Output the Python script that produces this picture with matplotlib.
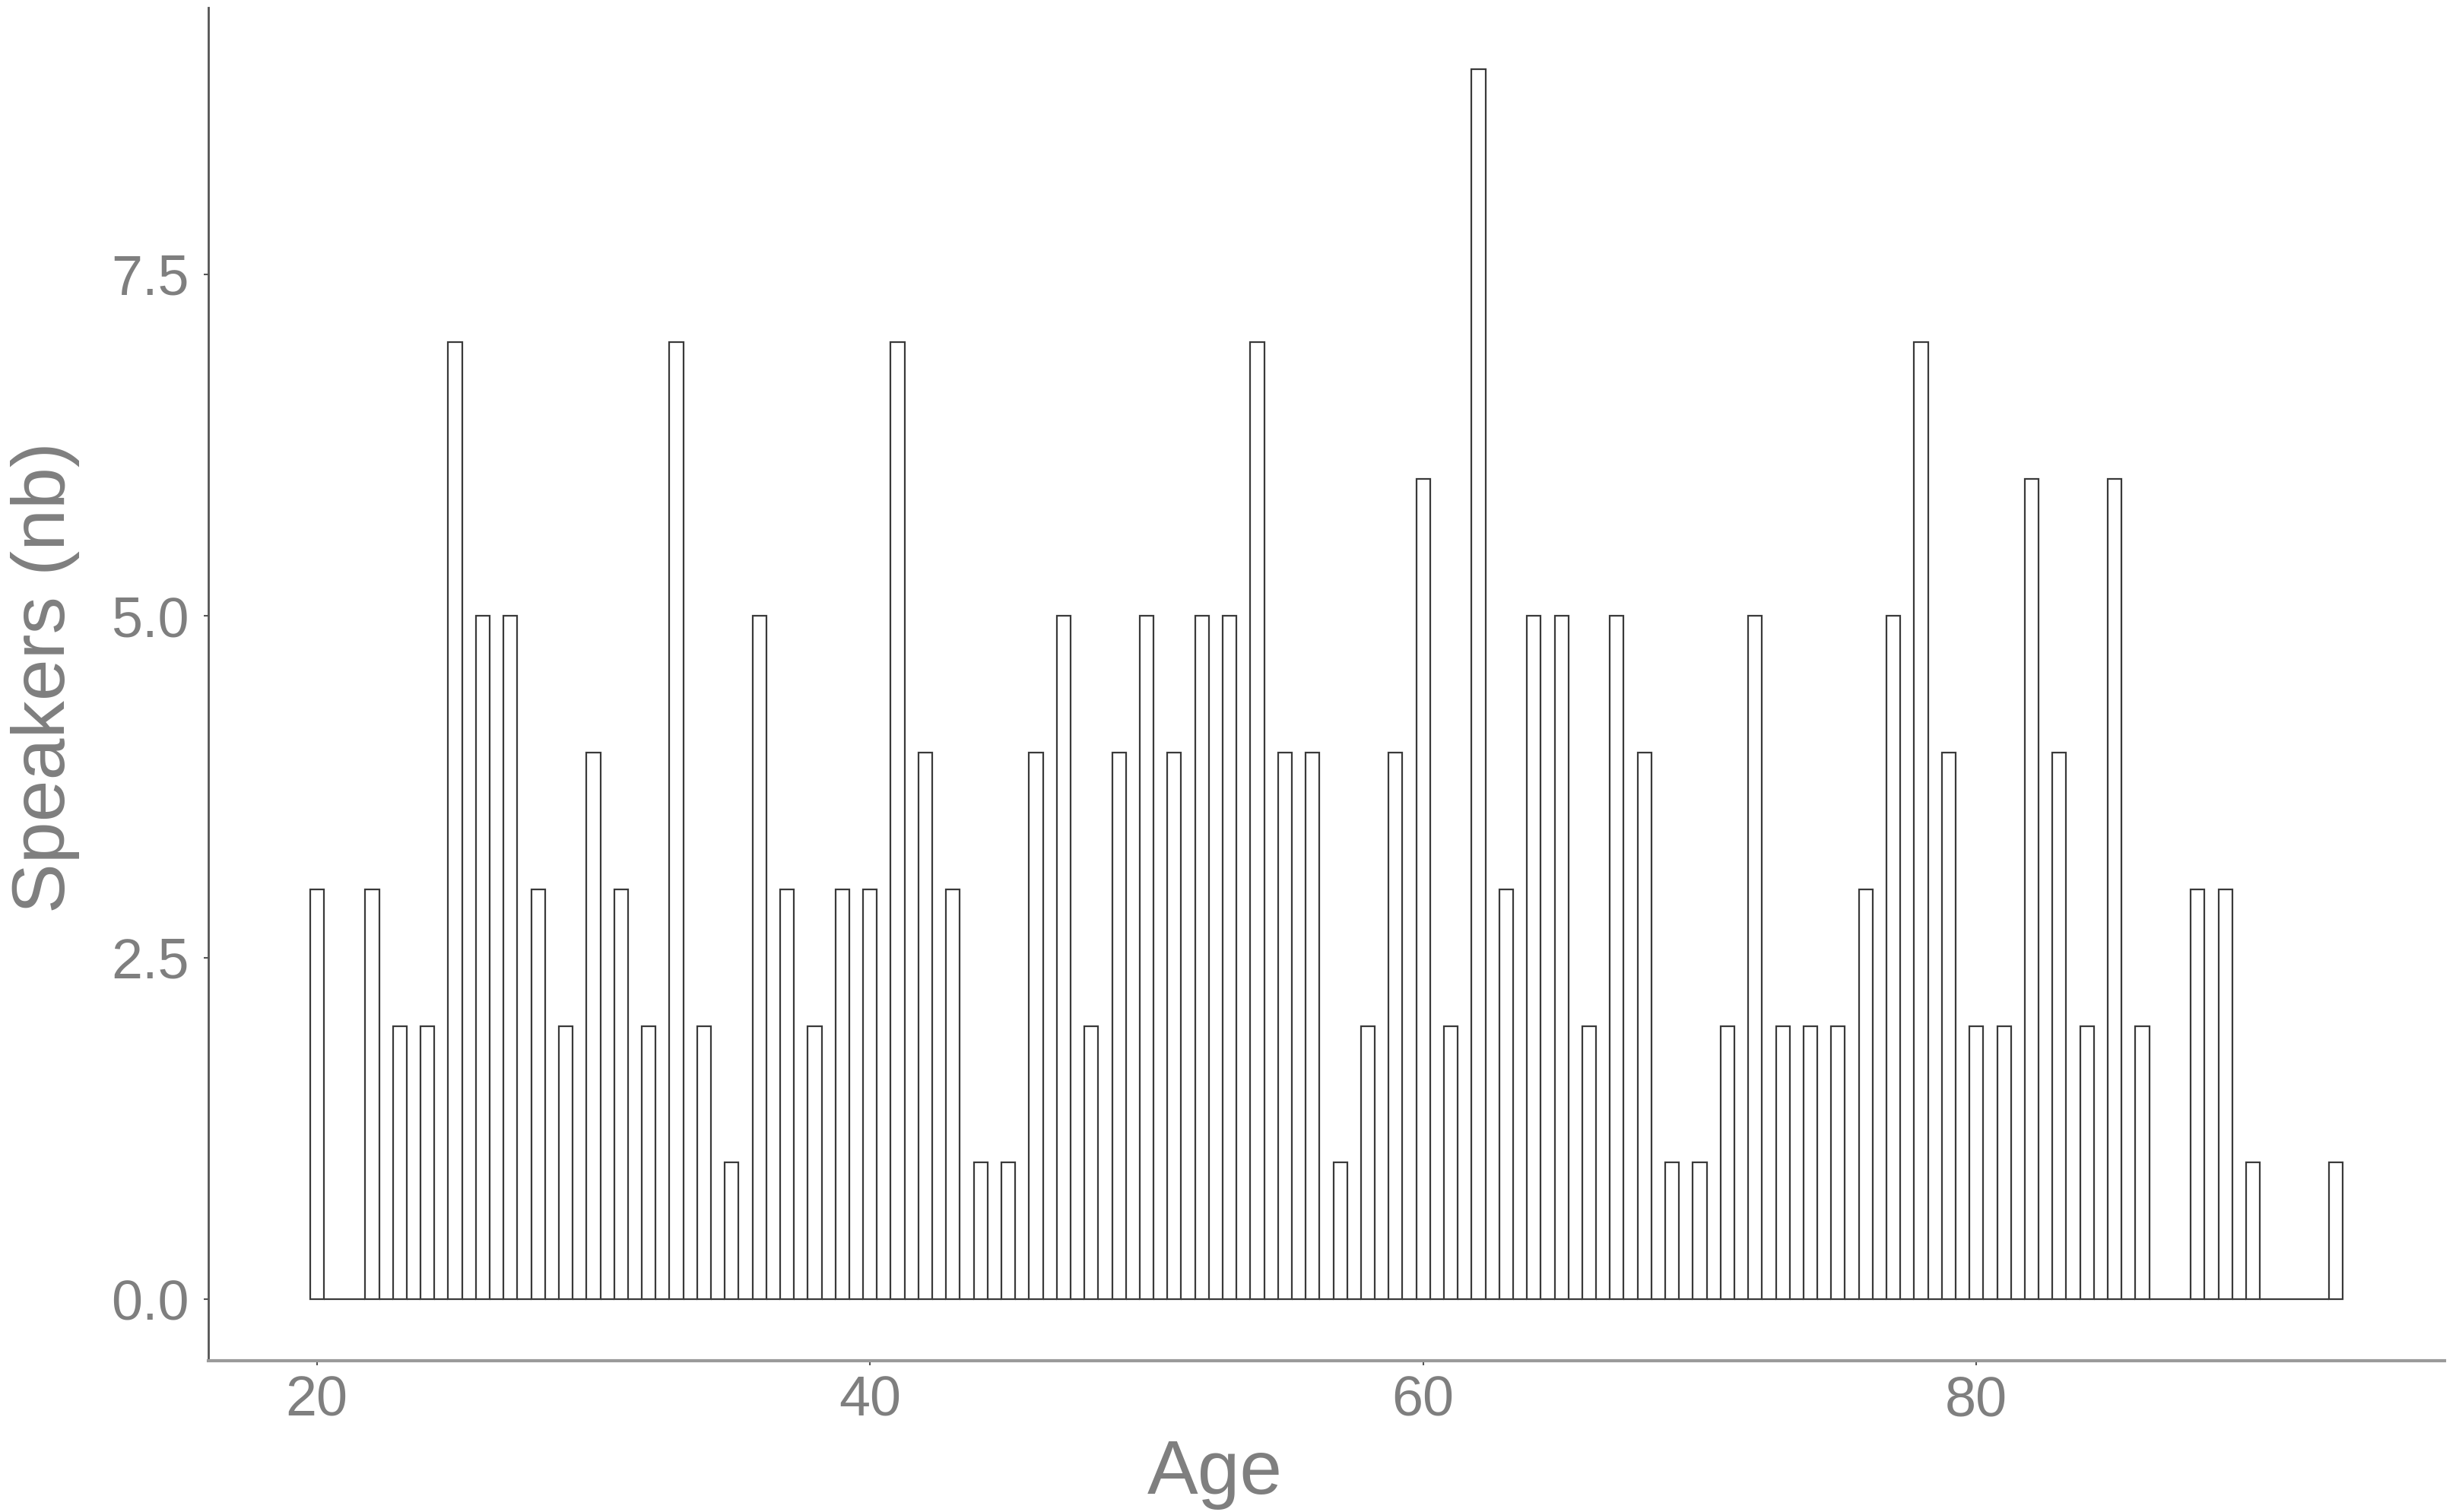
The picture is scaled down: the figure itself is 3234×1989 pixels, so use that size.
import numpy as np
import matplotlib
matplotlib.use("Agg")
import matplotlib.pyplot as plt

# speakers per age (one bar per year, empty years kept as 0)
ages = list(range(20, 94))
speakers = [3, 0, 3, 2, 2, 7, 5, 5, 3, 2,
            4, 3, 2, 7, 2, 1, 5, 3, 2, 3,
            3, 7, 4, 3, 1, 1, 4, 5, 2, 4,
            5, 4, 5, 5, 7, 4, 4, 1, 2, 4,
            6, 2, 9, 3, 5, 5, 2, 5, 4, 1,
            1, 2, 5, 2, 2, 2, 3, 5, 7, 4,
            2, 2, 6, 4, 2, 6, 2, 0, 3, 3,
            1, 0, 0, 1]

x_ticks = [20, 40, 60, 80]
y_ticks = [0.0, 2.5, 5.0, 7.5]
bin_width = 0.5

plt.rcParams['font.family'] = ['Liberation Sans', 'DejaVu Sans']

fig = plt.figure(figsize=(32.34, 19.89), dpi=100)
ax = fig.add_axes([0.0847, 0.100, 0.9094, 0.895])

# histogram with half-year bins: every other bin is empty and shows as baseline
edges = np.arange(min(ages) - bin_width / 2, max(ages) + bin_width, bin_width)
ax.hist(ages, bins=edges, weights=speakers, facecolor='white',
        edgecolor='#3a3a3a', linewidth=1.6)

span = edges[-1] - edges[0]
ax.set_xlim(edges[0] - 0.05 * span, edges[-1] + 0.05 * span)
ax.set_ylim(-0.45, 9.45)

ax.set_xticks(x_ticks)
ax.set_yticks(y_ticks)
ax.set_yticklabels([f"{v:.1f}" for v in y_ticks])

ax.spines['top'].set_visible(False)
ax.spines['right'].set_visible(False)
ax.spines['left'].set_color('#555555')
ax.spines['left'].set_linewidth(2.0)
ax.spines['bottom'].set_color('#9a9a9a')
ax.spines['bottom'].set_linewidth(3.0)

ax.tick_params(axis='both', labelsize=53, labelcolor='#7f7f7f',
               color='#555555', length=4, width=1.5)
ax.tick_params(axis='x', pad=9)
ax.tick_params(axis='y', pad=14)

ax.set_xlabel('Age', fontsize=72, color='#7f7f7f')
ax.xaxis.set_label_coords(0.450, -0.098)
ax.xaxis.label.set_va('baseline')

ax.set_ylabel('Speakers (nb)', fontsize=71, color='#7f7f7f')
ax.yaxis.set_label_coords(-0.073, 0.505)
ax.yaxis.label.set_va('center')

fig.savefig('out.png', dpi=100, facecolor='white')
